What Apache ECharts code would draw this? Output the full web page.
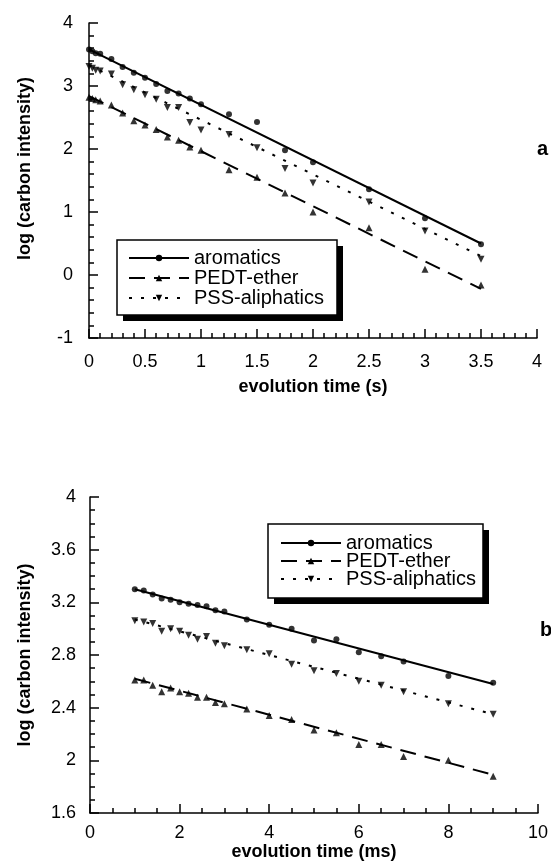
<!DOCTYPE html>
<html><head><meta charset="utf-8">
<script src="https://cdn.jsdelivr.net/npm/echarts@6/dist/echarts.min.js"></script>
<style>html,body{margin:0;padding:0;background:#fff}#c{width:551px;height:868px}</style>
</head><body><div id="c"></div>
<script>
// ---- Panel a: evolution time (s) ----
const topTime = [0, 0.03, 0.06, 0.1, 0.2, 0.3, 0.4, 0.5, 0.6, 0.7, 0.8, 0.9, 1.0, 1.25, 1.5, 1.75, 2.0, 2.5, 3.0, 3.5];
const topAromatics = [3.58, 3.55, 3.52, 3.51, 3.43, 3.30, 3.21, 3.13, 3.03, 2.92, 2.88, 2.80, 2.71, 2.55, 2.43, 1.98, 1.79, 1.36, 0.90, 0.49];
const topPEDT = [2.82, 2.80, 2.78, 2.76, 2.70, 2.57, 2.45, 2.38, 2.31, 2.19, 2.14, 2.03, 1.98, 1.67, 1.55, 1.30, 1.00, 0.75, 0.09, -0.16];
const topPSS = [3.31, 3.28, 3.25, 3.24, 3.19, 3.02, 2.94, 2.86, 2.79, 2.66, 2.66, 2.42, 2.30, 2.23, 2.02, 1.69, 1.46, 1.16, 0.70, 0.25];
const topFitX = [0, 3.5];
const topFitAromatics = [3.58, 0.50];
const topFitPEDT = [2.84, -0.22];
const topFitPSS = [3.33, 0.30];

// ---- Panel b: evolution time (ms) ----
const botTime = [1.0, 1.2, 1.4, 1.6, 1.8, 2.0, 2.2, 2.4, 2.6, 2.8, 3.0, 3.5, 4.0, 4.5, 5.0, 5.5, 6.0, 6.5, 7.0, 8.0, 9.0];
const botAromatics = [3.30, 3.29, 3.26, 3.23, 3.22, 3.20, 3.19, 3.18, 3.17, 3.14, 3.13, 3.07, 3.03, 3.00, 2.91, 2.92, 2.82, 2.79, 2.75, 2.64, 2.59];
const botPSS = [3.06, 3.05, 3.04, 2.98, 3.00, 2.98, 2.95, 2.92, 2.94, 2.89, 2.87, 2.84, 2.81, 2.73, 2.68, 2.66, 2.60, 2.57, 2.52, 2.43, 2.35];
const botPEDT = [2.61, 2.61, 2.57, 2.52, 2.55, 2.52, 2.51, 2.48, 2.48, 2.44, 2.43, 2.39, 2.34, 2.31, 2.23, 2.21, 2.12, 2.12, 2.03, 2.00, 1.88];
const botFitX = [1.0, 9.0];
const botFitAromatics = [3.30, 2.58];
const botFitPEDT = [2.62, 1.89];
const botFitPSS = [3.07, 2.35];

const seriesNames = ['aromatics', 'PEDT-ether', 'PSS-aliphatics'];
const panelLabels = ['a', 'b'];
const xNames = ['evolution time (s)', 'evolution time (ms)'];
const yName = 'log (carbon intensity)';

const FONT = 'Liberation Sans, Arial, Helvetica, sans-serif';
const pair = (xs, ys) => xs.map((x, i) => [x, ys[i]]);

const styles = [
  { line: { color: '#000', width: 2, type: 'solid' }, symbol: 'circle', size: 6, rotate: 0 },
  { line: { color: '#000', width: 2, type: [16, 9] }, symbol: 'triangle', size: 7, rotate: 0 },
  { line: { color: '#000', width: 2, type: [3, 9] }, symbol: 'triangle', size: 7, rotate: 180 }
];

function fitSeries(i, gi, xs, ys) {
  const s = styles[i];
  return {
    type: 'line', name: seriesNames[i], xAxisIndex: gi, yAxisIndex: gi,
    data: pair(xs, ys), showSymbol: false, symbol: s.symbol, symbolSize: s.size, symbolRotate: s.rotate,
    lineStyle: s.line, itemStyle: { color: '#000' }, z: 2, silent: true
  };
}
function pointSeries(i, gi, xs, ys) {
  const s = styles[i];
  return {
    type: 'scatter', name: seriesNames[i] + ' points ' + panelLabels[gi], xAxisIndex: gi, yAxisIndex: gi,
    data: pair(xs, ys), symbol: s.symbol, symbolSize: s.size, symbolRotate: s.rotate,
    itemStyle: { color: '#000' }, z: 3, silent: true
  };
}

const axisLine = { show: true, onZero: false, lineStyle: { color: '#000', width: 1.5 } };
const axisTick = { show: true, inside: true, length: 9, lineStyle: { color: '#000', width: 1.5 } };
const minorTickStyle = (n) => ({ show: true, splitNumber: n, length: 5, lineStyle: { color: '#000', width: 1.5 } });
const labelStyle = (m) => ({ color: '#000', fontSize: 18, fontFamily: FONT, margin: m });
const nameStyle = { color: '#000', fontSize: 18, fontWeight: 'bold', fontFamily: FONT };

function legendBox(x, y, w, h) {
  return [
    { type: 'rect', z: 3, silent: true, shape: { x: x + 6, y: y + 6, width: w, height: h },
      style: { fill: '#000' } },
    { type: 'rect', z: 3, silent: true, shape: { x: x, y: y, width: w, height: h },
      style: { fill: '#fff', stroke: '#000', lineWidth: 1.5 } }
  ];
}

const option = {
  animation: false,
  backgroundColor: '#fff',
  grid: [
    { left: 89, top: 23, width: 448, height: 315 },
    { left: 90, top: 497, width: 450, height: 316 }
  ],
  xAxis: [
    { gridIndex: 0, type: 'value', min: 0, max: 4, interval: 0.5,
      axisLine, axisTick, minorTick: minorTickStyle(5), splitLine: { show: false },
      axisLabel: labelStyle(15),
      name: xNames[0], nameLocation: 'middle', nameGap: 40, nameTextStyle: nameStyle },
    { gridIndex: 1, type: 'value', min: 0, max: 10, interval: 2,
      axisLine, axisTick, minorTick: minorTickStyle(4), splitLine: { show: false },
      axisLabel: labelStyle(11),
      name: xNames[1], nameLocation: 'middle', nameGap: 30, nameTextStyle: nameStyle }
  ],
  yAxis: [
    { gridIndex: 0, type: 'value', min: -1, max: 4, interval: 1,
      axisLine, axisTick, minorTick: minorTickStyle(5), splitLine: { show: false },
      axisLabel: labelStyle(16),
      name: yName, nameLocation: 'middle', nameGap: 55,
      nameTextStyle: Object.assign({ padding: [0, 0, 0, 24] }, nameStyle) },
    { gridIndex: 1, type: 'value', min: 1.6, max: 4, interval: 0.4,
      axisLine, axisTick, minorTick: minorTickStyle(4), splitLine: { show: false },
      axisLabel: labelStyle(14),
      name: yName, nameLocation: 'middle', nameGap: 56, nameTextStyle: nameStyle }
  ],
  graphic: { elements: legendBox(117, 240, 220, 75).concat(legendBox(268, 524, 215, 74)) },
  legend: [
    { data: seriesNames, orient: 'vertical', left: 117, top: 240, selectedMode: false, z: 10,
      itemWidth: 60, itemHeight: 8, itemGap: 0, padding: [8, 10, 9, 11],
      textStyle: { color: '#000', fontSize: 20, fontFamily: FONT, lineHeight: 20 } },
    { data: seriesNames, orient: 'vertical', left: 268, top: 524, selectedMode: false, z: 10,
      itemWidth: 60, itemHeight: 8, itemGap: -2, padding: [9, 6, 11, 12],
      textStyle: { color: '#000', fontSize: 20, fontFamily: FONT, lineHeight: 18 } }
  ],
  title: [
    { text: panelLabels[0], left: 537, top: 139, padding: 0,
      textStyle: { color: '#000', fontSize: 20, fontWeight: 'bold', fontFamily: FONT } },
    { text: panelLabels[1], left: 540, top: 620, padding: 0,
      textStyle: { color: '#000', fontSize: 20, fontWeight: 'bold', fontFamily: FONT } }
  ],
  series: [
    fitSeries(0, 0, topFitX, topFitAromatics),
    fitSeries(1, 0, topFitX, topFitPEDT),
    fitSeries(2, 0, topFitX, topFitPSS),
    pointSeries(0, 0, topTime, topAromatics),
    pointSeries(1, 0, topTime, topPEDT),
    pointSeries(2, 0, topTime, topPSS),
    fitSeries(0, 1, botFitX, botFitAromatics),
    fitSeries(1, 1, botFitX, botFitPEDT),
    fitSeries(2, 1, botFitX, botFitPSS),
    pointSeries(0, 1, botTime, botAromatics),
    pointSeries(1, 1, botTime, botPEDT),
    pointSeries(2, 1, botTime, botPSS)
  ]
};

const chart = echarts.init(document.getElementById('c'), null, { renderer: 'canvas' });
chart.setOption(option);
</script></body></html>
